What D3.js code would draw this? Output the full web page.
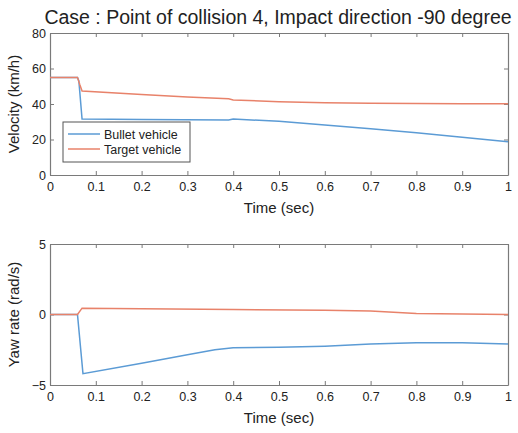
<!DOCTYPE html>
<html>
<head>
<meta charset="utf-8">
<script src="https://d3js.org/d3.v7.min.js"></script>
<style>
  body { margin: 0; background: #fff; }
  svg text { font-family: Arial, "Liberation Sans", sans-serif; fill: #222; }
</style>
</head>
<body>
<svg width="518" height="433"></svg>
<script>

// time ticks (sec)
var timeTicks = [0, 0.1, 0.2, 0.3, 0.4, 0.5, 0.6, 0.7, 0.8, 0.9, 1];

// velocity (km/h)
var bulletVel = [[0, 55], [0.06, 55], [0.063, 53], [0.07, 31.5], [0.2, 31.3], [0.39, 31], [0.4, 31.5],
                 [0.5, 30.3], [0.6, 28.2], [0.7, 26], [0.8, 23.8], [0.9, 21.3], [1.0, 18.8]];
var targetVel = [[0, 55], [0.06, 55], [0.065, 51], [0.07, 47.3], [0.2, 45.3], [0.3, 44], [0.39, 43], [0.4, 42.3],
                 [0.5, 41.3], [0.6, 40.7], [0.7, 40.4], [0.8, 40.3], [0.9, 40.2], [1.0, 40.2]];

// yaw rate (rad/s)
var bulletYaw = [[0, 0], [0.06, 0], [0.072, -4.2], [0.2, -3.45], [0.3, -2.85], [0.36, -2.5], [0.4, -2.35],
                 [0.5, -2.33], [0.6, -2.25], [0.7, -2.1], [0.8, -2.0], [0.9, -2.0], [1.0, -2.1]];
var targetYaw = [[0, 0], [0.06, 0], [0.07, 0.45], [0.2, 0.4], [0.4, 0.35], [0.6, 0.3], [0.7, 0.25],
                 [0.8, 0.07], [0.9, 0.03], [1.0, 0]];

var velTicks = [0, 20, 40, 60, 80];
var yawTicks = [-5, 0, 5];

var legendKeys = ["Bullet vehicle", "Target vehicle"];
var colors = ["#5b9bd5", "#e8826a"];

var svg = d3.select("svg");

var left = 50, right = 508;
var xScale = d3.scaleLinear().domain([0, 1]).range([left, right]);

function panel(top, bottom, domain, yTicks, series, ylabel) {
  var yScale = d3.scaleLinear().domain(domain).range([bottom, top]);
  var g = svg.append("g");

  // axes with inward ticks (matlab style)
  g.append("g").attr("transform", "translate(0," + bottom + ")")
    .call(d3.axisBottom(xScale).tickValues(timeTicks).tickSizeInner(-4).tickSizeOuter(0).tickPadding(7)
      .tickFormat(function (d) { return d === 0 || d === 1 ? d : d3.format(".1f")(d); }));
  g.append("g").attr("transform", "translate(0," + top + ")")
    .call(d3.axisTop(xScale).tickValues(timeTicks).tickSizeInner(-4).tickSizeOuter(0).tickFormat(""));
  g.append("g").attr("transform", "translate(" + left + ",0)")
    .call(d3.axisLeft(yScale).tickValues(yTicks).tickSizeInner(-4).tickSizeOuter(0).tickPadding(4));
  g.append("g").attr("transform", "translate(" + right + ",0)")
    .call(d3.axisRight(yScale).tickValues(yTicks).tickSizeInner(-4).tickSizeOuter(0).tickFormat(""));

  g.selectAll(".domain, .tick line").attr("stroke", "#7a7a7a");
  g.selectAll(".tick text").style("font-size", "12.5px").attr("fill", "#222");
  g.selectAll(".domain").attr("stroke-width", 1.2);

  var line = d3.line()
    .x(function (d) { return xScale(d[0]); })
    .y(function (d) { return yScale(d[1]); });

  series.forEach(function (s, i) {
    g.append("path")
      .datum(s)
      .attr("d", line)
      .style("fill", "none")
      .style("stroke", colors[i])
      .style("stroke-width", 1.5);
  });

  // x label
  g.append("text")
    .attr("x", (left + right) / 2)
    .attr("y", bottom + 38)
    .attr("text-anchor", "middle")
    .style("font-size", "15px")
    .text("Time (sec)");

  // y label
  g.append("text")
    .attr("text-anchor", "middle")
    .attr("transform", "translate(19," + (top + bottom) / 2 + ")rotate(-90)")
    .style("font-size", "15px")
    .text(ylabel);

  return yScale;
}

panel(33, 175, [0, 80], velTicks, [bulletVel, targetVel], "Velocity (km/h)");
panel(244, 385, [-5, 5], yawTicks, [bulletYaw, targetYaw], "Yaw rate (rad/s)");

// title
svg.append("text")
  .attr("x", 278)
  .attr("y", 24)
  .attr("text-anchor", "middle")
  .style("font-size", "19.5px")
  .text("Case : Point of collision 4, Impact direction -90 degree");

// legend
var legend = svg.append("g").attr("transform", "translate(63,122)");
legend.append("rect")
  .attr("width", 127).attr("height", 40)
  .attr("fill", "#fff").attr("stroke", "#555").attr("stroke-width", 1);

var lineLegend = legend.selectAll(".lineLegend").data(legendKeys)
  .enter().append("g")
  .attr("class", "lineLegend")
  .attr("transform", function (d, i) { return "translate(0," + (12 + i * 15) + ")"; });

lineLegend.append("line")
  .attr("x1", 5).attr("x2", 37)
  .attr("y1", 0).attr("y2", 0)
  .style("stroke", function (d, i) { return colors[i]; })
  .style("stroke-width", 1.5);

lineLegend.append("text")
  .attr("x", 41).attr("y", 5)
  .style("font-size", "12.5px")
  .text(function (d) { return d; });

</script>
</body>
</html>
